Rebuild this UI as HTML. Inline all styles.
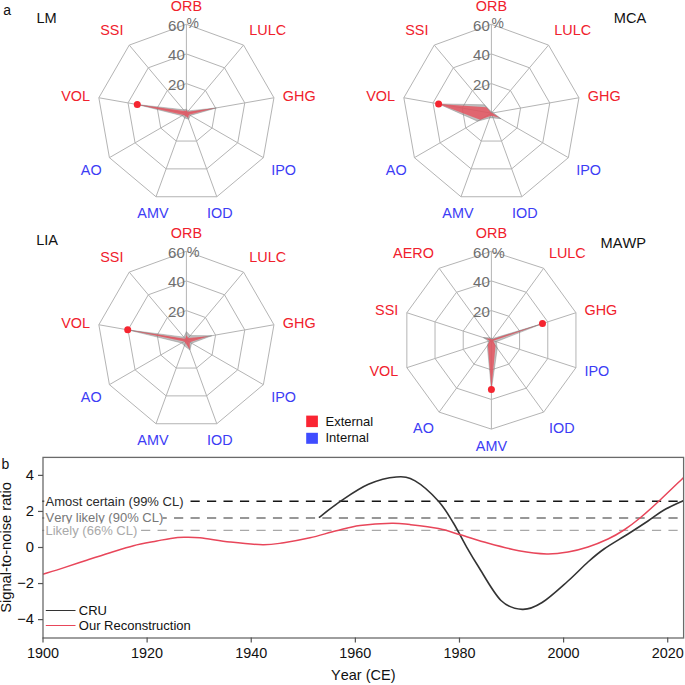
<!DOCTYPE html>
<html><head><meta charset="utf-8"><style>
html,body{margin:0;padding:0;background:#fff;}
svg{display:block;font-family:"Liberation Sans", sans-serif;font-kerning:none;}
</style></head><body>
<svg width="685" height="685" viewBox="0 0 685 685">
<rect width="685" height="685" fill="#fff"/>
<text x="3.3" y="15" font-size="14" fill="#111">a</text>
<polygon points="186.4,83.57 205.45,90.5 215.58,108.05 212.06,128.02 196.54,141.05 176.26,141.05 160.74,128.02 157.22,108.05 167.35,90.5" fill="none" stroke="#b4b4b4" stroke-width="1"/>
<polygon points="186.4,53.93 224.5,67.8 244.77,102.91 237.73,142.83 206.67,168.89 166.13,168.89 135.07,142.83 128.03,102.91 148.3,67.8" fill="none" stroke="#b4b4b4" stroke-width="1"/>
<polygon points="186.4,24.3 243.54,45.1 273.95,97.76 263.39,157.65 216.81,196.74 155.99,196.74 109.41,157.65 98.85,97.76 129.26,45.1" fill="none" stroke="#b4b4b4" stroke-width="1"/>
<line x1="186.4" y1="113.2" x2="186.4" y2="24.3" stroke="#b4b4b4" stroke-width="1"/>
<line x1="186.4" y1="113.2" x2="243.54" y2="45.1" stroke="#b4b4b4" stroke-width="1"/>
<line x1="186.4" y1="113.2" x2="273.95" y2="97.76" stroke="#b4b4b4" stroke-width="1"/>
<line x1="186.4" y1="113.2" x2="263.39" y2="157.65" stroke="#b4b4b4" stroke-width="1"/>
<line x1="186.4" y1="113.2" x2="216.81" y2="196.74" stroke="#b4b4b4" stroke-width="1"/>
<line x1="186.4" y1="113.2" x2="155.99" y2="196.74" stroke="#b4b4b4" stroke-width="1"/>
<line x1="186.4" y1="113.2" x2="109.41" y2="157.65" stroke="#b4b4b4" stroke-width="1"/>
<line x1="186.4" y1="113.2" x2="98.85" y2="97.76" stroke="#b4b4b4" stroke-width="1"/>
<line x1="186.4" y1="113.2" x2="129.26" y2="45.1" stroke="#b4b4b4" stroke-width="1"/>
<polygon points="186.4,109.2 188.33,110.9 216.44,107.9 190.3,115.45 188.62,119.31 184.69,117.9 182.07,115.7 137.26,104.53 183.51,109.75" fill="#808080" fill-opacity="0.5" stroke="#808080" stroke-opacity="0.5" stroke-width="0.8" stroke-linejoin="round"/>
<polygon points="186.4,110.2 187.69,111.67 215.75,108.03 189,114.7 188.11,117.9 185.37,116.02 183.37,114.95 137.26,104.53 184.47,110.9" fill="#e8505c" fill-opacity="0.8" stroke="none"/>
<circle cx="137.26" cy="104.53" r="3.5" fill="#f52530"/>
<text x="184.8" y="89.97" text-anchor="end" font-size="15" fill="#6e6e6e">20</text>
<text x="184.8" y="60.33" text-anchor="end" font-size="15" fill="#6e6e6e">40</text>
<text x="184.8" y="30.7" text-anchor="end" font-size="15" fill="#6e6e6e">60</text>
<text x="186.6" y="28.2" font-size="13.9" fill="#6e6e6e">%</text>
<text x="186.4" y="11.1" text-anchor="middle" font-size="14.4" fill="#f0202c">ORB</text>
<text x="249.33" y="35" text-anchor="start" font-size="14.4" fill="#f0202c">LULC</text>
<text x="282.81" y="101.45" text-anchor="start" font-size="14.4" fill="#f0202c">GHG</text>
<text x="271.18" y="175.35" text-anchor="start" font-size="14.4" fill="#3c3cf5">IPO</text>
<text x="219.88" y="218.4" text-anchor="middle" font-size="14.4" fill="#3c3cf5">IOD</text>
<text x="152.92" y="218.4" text-anchor="middle" font-size="14.4" fill="#3c3cf5">AMV</text>
<text x="101.62" y="175.35" text-anchor="end" font-size="14.4" fill="#3c3cf5">AO</text>
<text x="89.99" y="101.45" text-anchor="end" font-size="14.4" fill="#f0202c">VOL</text>
<text x="123.47" y="35" text-anchor="end" font-size="14.4" fill="#f0202c">SSI</text>
<text x="36.4" y="23.2" font-size="14.6" fill="#111">LM</text>
<polygon points="491.4,83.57 510.45,90.5 520.58,108.05 517.06,128.02 501.54,141.05 481.26,141.05 465.74,128.02 462.22,108.05 472.35,90.5" fill="none" stroke="#b4b4b4" stroke-width="1"/>
<polygon points="491.4,53.93 529.5,67.8 549.77,102.91 542.73,142.83 511.67,168.89 471.13,168.89 440.07,142.83 433.03,102.91 453.3,67.8" fill="none" stroke="#b4b4b4" stroke-width="1"/>
<polygon points="491.4,24.3 548.54,45.1 578.95,97.76 568.39,157.65 521.81,196.74 460.99,196.74 414.41,157.65 403.85,97.76 434.26,45.1" fill="none" stroke="#b4b4b4" stroke-width="1"/>
<line x1="491.4" y1="113.2" x2="491.4" y2="24.3" stroke="#b4b4b4" stroke-width="1"/>
<line x1="491.4" y1="113.2" x2="548.54" y2="45.1" stroke="#b4b4b4" stroke-width="1"/>
<line x1="491.4" y1="113.2" x2="578.95" y2="97.76" stroke="#b4b4b4" stroke-width="1"/>
<line x1="491.4" y1="113.2" x2="568.39" y2="157.65" stroke="#b4b4b4" stroke-width="1"/>
<line x1="491.4" y1="113.2" x2="521.81" y2="196.74" stroke="#b4b4b4" stroke-width="1"/>
<line x1="491.4" y1="113.2" x2="460.99" y2="196.74" stroke="#b4b4b4" stroke-width="1"/>
<line x1="491.4" y1="113.2" x2="414.41" y2="157.65" stroke="#b4b4b4" stroke-width="1"/>
<line x1="491.4" y1="113.2" x2="403.85" y2="97.76" stroke="#b4b4b4" stroke-width="1"/>
<line x1="491.4" y1="113.2" x2="434.26" y2="45.1" stroke="#b4b4b4" stroke-width="1"/>
<polygon points="491.4,111.7 492.36,112.05 493.37,112.85 500.93,118.7 493.11,117.9 489.69,117.9 477.54,121.2 438.61,103.89 484.33,104.77" fill="#808080" fill-opacity="0.5" stroke="#808080" stroke-opacity="0.5" stroke-width="0.8" stroke-linejoin="round"/>
<polygon points="491.4,112.7 491.72,112.82 492.38,113.03 499.02,117.6 492.43,116.02 490.37,116.02 480.14,119.7 438.61,103.89 486.32,107.15" fill="#e8505c" fill-opacity="0.8" stroke="none"/>
<circle cx="438.61" cy="103.89" r="3.5" fill="#f52530"/>
<text x="489.8" y="89.97" text-anchor="end" font-size="15" fill="#6e6e6e">20</text>
<text x="489.8" y="60.33" text-anchor="end" font-size="15" fill="#6e6e6e">40</text>
<text x="489.8" y="30.7" text-anchor="end" font-size="15" fill="#6e6e6e">60</text>
<text x="491.6" y="28.2" font-size="13.9" fill="#6e6e6e">%</text>
<text x="491.4" y="11.1" text-anchor="middle" font-size="14.4" fill="#f0202c">ORB</text>
<text x="554.33" y="35" text-anchor="start" font-size="14.4" fill="#f0202c">LULC</text>
<text x="587.81" y="101.45" text-anchor="start" font-size="14.4" fill="#f0202c">GHG</text>
<text x="576.18" y="175.35" text-anchor="start" font-size="14.4" fill="#3c3cf5">IPO</text>
<text x="524.88" y="218.4" text-anchor="middle" font-size="14.4" fill="#3c3cf5">IOD</text>
<text x="457.92" y="218.4" text-anchor="middle" font-size="14.4" fill="#3c3cf5">AMV</text>
<text x="406.62" y="175.35" text-anchor="end" font-size="14.4" fill="#3c3cf5">AO</text>
<text x="394.99" y="101.45" text-anchor="end" font-size="14.4" fill="#f0202c">VOL</text>
<text x="428.47" y="35" text-anchor="end" font-size="14.4" fill="#f0202c">SSI</text>
<text x="646.3" y="23.1" text-anchor="end" font-size="14.6" fill="#111">MCA</text>
<polygon points="186.4,310.57 205.45,317.5 215.58,335.05 212.06,355.02 196.54,368.05 176.26,368.05 160.74,355.02 157.22,335.05 167.35,317.5" fill="none" stroke="#b4b4b4" stroke-width="1"/>
<polygon points="186.4,280.93 224.5,294.8 244.77,329.91 237.73,369.83 206.67,395.89 166.13,395.89 135.07,369.83 128.03,329.91 148.3,294.8" fill="none" stroke="#b4b4b4" stroke-width="1"/>
<polygon points="186.4,251.3 243.54,272.1 273.95,324.76 263.39,384.65 216.81,423.74 155.99,423.74 109.41,384.65 98.85,324.76 129.26,272.1" fill="none" stroke="#b4b4b4" stroke-width="1"/>
<line x1="186.4" y1="340.2" x2="186.4" y2="251.3" stroke="#b4b4b4" stroke-width="1"/>
<line x1="186.4" y1="340.2" x2="243.54" y2="272.1" stroke="#b4b4b4" stroke-width="1"/>
<line x1="186.4" y1="340.2" x2="273.95" y2="324.76" stroke="#b4b4b4" stroke-width="1"/>
<line x1="186.4" y1="340.2" x2="263.39" y2="384.65" stroke="#b4b4b4" stroke-width="1"/>
<line x1="186.4" y1="340.2" x2="216.81" y2="423.74" stroke="#b4b4b4" stroke-width="1"/>
<line x1="186.4" y1="340.2" x2="155.99" y2="423.74" stroke="#b4b4b4" stroke-width="1"/>
<line x1="186.4" y1="340.2" x2="109.41" y2="384.65" stroke="#b4b4b4" stroke-width="1"/>
<line x1="186.4" y1="340.2" x2="98.85" y2="324.76" stroke="#b4b4b4" stroke-width="1"/>
<line x1="186.4" y1="340.2" x2="129.26" y2="272.1" stroke="#b4b4b4" stroke-width="1"/>
<polygon points="186.4,331.6 190.26,335.6 211.81,335.72 191.6,343.2 189.99,350.07 184.35,345.84 181.64,342.95 127.71,329.85 183.83,337.14" fill="#808080" fill-opacity="0.5" stroke="#808080" stroke-opacity="0.5" stroke-width="0.8" stroke-linejoin="round"/>
<polygon points="186.4,335.2 188.33,337.9 208.46,336.31 189.86,342.2 189.65,349.13 185.37,343.02 184.23,341.45 127.71,329.85 185.11,338.67" fill="#e8505c" fill-opacity="0.8" stroke="none"/>
<circle cx="127.71" cy="329.85" r="3.5" fill="#f52530"/>
<text x="184.8" y="316.97" text-anchor="end" font-size="15" fill="#6e6e6e">20</text>
<text x="184.8" y="287.33" text-anchor="end" font-size="15" fill="#6e6e6e">40</text>
<text x="184.8" y="257.7" text-anchor="end" font-size="15" fill="#6e6e6e">60</text>
<text x="186.7" y="256.8" font-size="14.4" fill="#6e6e6e">%</text>
<text x="186.4" y="238.1" text-anchor="middle" font-size="14.4" fill="#f0202c">ORB</text>
<text x="249.33" y="262" text-anchor="start" font-size="14.4" fill="#f0202c">LULC</text>
<text x="282.81" y="328.45" text-anchor="start" font-size="14.4" fill="#f0202c">GHG</text>
<text x="271.18" y="402.35" text-anchor="start" font-size="14.4" fill="#3c3cf5">IPO</text>
<text x="219.88" y="445.4" text-anchor="middle" font-size="14.4" fill="#3c3cf5">IOD</text>
<text x="152.92" y="445.4" text-anchor="middle" font-size="14.4" fill="#3c3cf5">AMV</text>
<text x="101.62" y="402.35" text-anchor="end" font-size="14.4" fill="#3c3cf5">AO</text>
<text x="89.99" y="328.45" text-anchor="end" font-size="14.4" fill="#f0202c">VOL</text>
<text x="123.47" y="262" text-anchor="end" font-size="14.4" fill="#f0202c">SSI</text>
<text x="36.2" y="245.3" font-size="14.6" fill="#111">LIA</text>
<polygon points="491.4,310.57 508.82,316.23 519.58,331.04 519.58,349.36 508.82,364.17 491.4,369.83 473.98,364.17 463.22,349.36 463.22,331.04 473.98,316.23" fill="none" stroke="#b4b4b4" stroke-width="1"/>
<polygon points="491.4,280.93 526.24,292.25 547.77,321.89 547.77,358.51 526.24,388.15 491.4,399.47 456.56,388.15 435.03,358.51 435.03,321.89 456.56,292.25" fill="none" stroke="#b4b4b4" stroke-width="1"/>
<polygon points="491.4,251.3 543.65,268.28 575.95,312.73 575.95,367.67 543.65,412.12 491.4,429.1 439.15,412.12 406.85,367.67 406.85,312.73 439.15,268.28" fill="none" stroke="#b4b4b4" stroke-width="1"/>
<line x1="491.4" y1="340.2" x2="491.4" y2="251.3" stroke="#b4b4b4" stroke-width="1"/>
<line x1="491.4" y1="340.2" x2="543.65" y2="268.28" stroke="#b4b4b4" stroke-width="1"/>
<line x1="491.4" y1="340.2" x2="575.95" y2="312.73" stroke="#b4b4b4" stroke-width="1"/>
<line x1="491.4" y1="340.2" x2="575.95" y2="367.67" stroke="#b4b4b4" stroke-width="1"/>
<line x1="491.4" y1="340.2" x2="543.65" y2="412.12" stroke="#b4b4b4" stroke-width="1"/>
<line x1="491.4" y1="340.2" x2="491.4" y2="429.1" stroke="#b4b4b4" stroke-width="1"/>
<line x1="491.4" y1="340.2" x2="439.15" y2="412.12" stroke="#b4b4b4" stroke-width="1"/>
<line x1="491.4" y1="340.2" x2="406.85" y2="367.67" stroke="#b4b4b4" stroke-width="1"/>
<line x1="491.4" y1="340.2" x2="406.85" y2="312.73" stroke="#b4b4b4" stroke-width="1"/>
<line x1="491.4" y1="340.2" x2="439.15" y2="268.28" stroke="#b4b4b4" stroke-width="1"/>
<polygon points="491.4,338.2 492.58,338.58 542.47,323.61 496.16,341.75 497.28,348.29 491.4,389.5 487.29,345.86 488.55,341.13 483.32,337.57 489.64,337.77" fill="#808080" fill-opacity="0.5" stroke="#808080" stroke-opacity="0.5" stroke-width="0.8" stroke-linejoin="round"/>
<polygon points="491.4,339.2 491.99,339.39 542.47,323.61 493.3,340.82 495.51,345.86 491.4,389.5 487.87,345.05 489.5,340.82 486.17,338.5 490.22,338.58" fill="#e8505c" fill-opacity="0.8" stroke="none"/>
<circle cx="542.47" cy="323.61" r="3.5" fill="#f52530"/>
<circle cx="491.4" cy="389.5" r="3.5" fill="#f52530"/>
<text x="489.8" y="316.97" text-anchor="end" font-size="15" fill="#6e6e6e">20</text>
<text x="489.8" y="287.33" text-anchor="end" font-size="15" fill="#6e6e6e">40</text>
<text x="489.8" y="257.7" text-anchor="end" font-size="15" fill="#6e6e6e">60</text>
<text x="491.7" y="257.7" font-size="14.6" fill="#6e6e6e">%</text>
<text x="491.4" y="238.1" text-anchor="middle" font-size="14.4" fill="#f0202c">ORB</text>
<text x="548.94" y="257.8" text-anchor="start" font-size="14.4" fill="#f0202c">LULC</text>
<text x="584.51" y="315.2" text-anchor="start" font-size="14.4" fill="#f0202c">GHG</text>
<text x="584.51" y="375.7" text-anchor="start" font-size="14.4" fill="#3c3cf5">IPO</text>
<text x="548.94" y="432.6" text-anchor="start" font-size="14.4" fill="#3c3cf5">IOD</text>
<text x="491.4" y="451.3" text-anchor="middle" font-size="14.4" fill="#3c3cf5">AMV</text>
<text x="433.86" y="432.6" text-anchor="end" font-size="14.4" fill="#3c3cf5">AO</text>
<text x="398.29" y="375.7" text-anchor="end" font-size="14.4" fill="#f0202c">VOL</text>
<text x="398.29" y="315.2" text-anchor="end" font-size="14.4" fill="#f0202c">SSI</text>
<text x="433.86" y="257.8" text-anchor="end" font-size="14.4" fill="#f0202c">AERO</text>
<text x="646" y="247.7" text-anchor="end" font-size="14.6" fill="#111">MAWP</text>
<rect x="306.2" y="415.6" width="11.7" height="11.5" fill="#fa2533"/>
<rect x="306.2" y="432.8" width="11.7" height="11" fill="#3f4cff"/>
<text x="325.5" y="425.6" font-size="13" fill="#111">External</text>
<text x="325.5" y="442.4" font-size="13" fill="#111">Internal</text>
<text x="1.5" y="468.6" font-size="14" fill="#111">b</text>
<line x1="42.2" y1="501.3" x2="678.5" y2="501.3" stroke="#151515" stroke-width="1.5" stroke-dasharray="9.2 7.28"/>
<line x1="42.2" y1="518" x2="678.5" y2="518" stroke="#767676" stroke-width="1.6" stroke-dasharray="9.2 7.28"/>
<line x1="42.2" y1="530.4" x2="678.5" y2="530.4" stroke="#a8a8a8" stroke-width="1.25" stroke-dasharray="9.2 7.28"/>
<rect x="44.2" y="494.4" width="139.8" height="13" fill="#fff"/>
<text x="45.5" y="505.9" font-size="13" fill="#2b2b2b">Amost certain (99% CL)</text>
<rect x="44.2" y="511.1" width="118.3" height="13" fill="#fff"/>
<text x="45.5" y="521.9" font-size="13" fill="#777">Very likely (90% CL)</text>
<rect x="44.2" y="523.5" width="93.8" height="13" fill="#fff"/>
<text x="45.5" y="535" font-size="13" fill="#a9a9a9">Likely (66% CL)</text>
<path d="M318.9,517.6 C322.48,514.88 332.15,506.85 340.4,501.3 C348.65,495.75 359.07,488.35 368.4,484.3 C377.73,480.25 388.62,477.57 396.4,477 C404.18,476.43 408.08,476.87 415.1,480.9 C422.12,484.93 432.12,494.18 438.5,501.2 C444.88,508.22 448.92,515.72 453.4,523 C457.88,530.28 461.27,537.68 465.4,544.9 C469.53,552.12 472.27,557.03 478.2,566.3 C484.13,575.57 493.65,593.32 501,600.5 C508.35,607.68 515.45,609.07 522.3,609.4 C529.15,609.73 534.48,607.23 542.1,602.5 C549.72,597.77 560.35,587.75 568,581 C575.65,574.25 582,567.33 588,562 C594,556.67 597.33,553.67 604,549 C610.67,544.33 620.67,538.67 628,534 C635.33,529.33 642,525 648,521 C654,517 658.07,513.42 664,510 C669.93,506.58 680.33,502.08 683.6,500.5" fill="none" stroke="#333" stroke-width="1.6"/>
<path d="M43,574.2 C46.4,573.15 56.12,570.23 63.4,567.9 C70.68,565.57 78.92,562.73 86.7,560.2 C94.48,557.67 102.3,555.12 110.1,552.7 C117.9,550.28 125.72,547.65 133.5,545.7 C141.28,543.75 150.58,542.22 156.8,541 C163.02,539.78 166.27,539.02 170.8,538.4 C175.33,537.78 179.13,537.4 184,537.3 C188.87,537.2 192.33,537.02 200,537.8 C207.67,538.58 219.53,540.83 230,542 C240.47,543.17 253.83,544.68 262.8,544.8 C271.77,544.92 275.93,543.87 283.8,542.7 C291.67,541.53 301.25,539.78 310,537.8 C318.75,535.82 327.97,532.85 336.3,530.8 C344.63,528.75 350.75,526.77 360,525.5 C369.25,524.23 383.47,523.35 391.8,523.2 C400.13,523.05 402.22,523.7 410,524.6 C417.78,525.5 430.1,526.9 438.5,528.6 C446.9,530.3 452.08,532.35 460.4,534.8 C468.72,537.25 478.67,540.65 488.4,543.3 C498.13,545.95 509.07,548.93 518.8,550.7 C528.53,552.47 538.6,553.68 546.8,553.9 C555,554.12 561.13,553.15 568,552 C574.87,550.85 581.33,549.17 588,547 C594.67,544.83 602,541.83 608,539 C614,536.17 618.67,533.5 624,530 C629.33,526.5 634.33,522.67 640,518 C645.67,513.33 650.73,508.75 658,502 C665.27,495.25 679.33,481.58 683.6,477.5" fill="none" stroke="#e8465a" stroke-width="1.5"/>
<rect x="43" y="457.4" width="640.6" height="180.6" fill="none" stroke="#6a6a6a" stroke-width="1.3"/>
<line x1="38" y1="475.38" x2="43" y2="475.38" stroke="#555" stroke-width="1.2"/>
<text x="34" y="480.08" text-anchor="end" font-size="14.8" fill="#111">4</text>
<line x1="38" y1="511.44" x2="43" y2="511.44" stroke="#555" stroke-width="1.2"/>
<text x="34" y="516.14" text-anchor="end" font-size="14.8" fill="#111">2</text>
<line x1="38" y1="547.5" x2="43" y2="547.5" stroke="#555" stroke-width="1.2"/>
<text x="34" y="552.2" text-anchor="end" font-size="14.8" fill="#111">0</text>
<line x1="38" y1="583.56" x2="43" y2="583.56" stroke="#555" stroke-width="1.2"/>
<text x="34" y="588.26" text-anchor="end" font-size="14.8" fill="#111">−2</text>
<line x1="38" y1="619.62" x2="43" y2="619.62" stroke="#555" stroke-width="1.2"/>
<text x="34" y="624.32" text-anchor="end" font-size="14.8" fill="#111">−4</text>
<line x1="43" y1="637.6" x2="43" y2="642.6" stroke="#555" stroke-width="1.2"/>
<text x="43" y="657.8" text-anchor="middle" font-size="14.4" fill="#111">1900</text>
<line x1="147.12" y1="637.6" x2="147.12" y2="642.6" stroke="#555" stroke-width="1.2"/>
<text x="147.12" y="657.8" text-anchor="middle" font-size="14.4" fill="#111">1920</text>
<line x1="251.24" y1="637.6" x2="251.24" y2="642.6" stroke="#555" stroke-width="1.2"/>
<text x="251.24" y="657.8" text-anchor="middle" font-size="14.4" fill="#111">1940</text>
<line x1="355.36" y1="637.6" x2="355.36" y2="642.6" stroke="#555" stroke-width="1.2"/>
<text x="355.36" y="657.8" text-anchor="middle" font-size="14.4" fill="#111">1960</text>
<line x1="459.48" y1="637.6" x2="459.48" y2="642.6" stroke="#555" stroke-width="1.2"/>
<text x="459.48" y="657.8" text-anchor="middle" font-size="14.4" fill="#111">1980</text>
<line x1="563.6" y1="637.6" x2="563.6" y2="642.6" stroke="#555" stroke-width="1.2"/>
<text x="563.6" y="657.8" text-anchor="middle" font-size="14.4" fill="#111">2000</text>
<line x1="667.72" y1="637.6" x2="667.72" y2="642.6" stroke="#555" stroke-width="1.2"/>
<text x="667.72" y="657.8" text-anchor="middle" font-size="14.4" fill="#111">2020</text>
<text x="363.3" y="680.4" text-anchor="middle" font-size="14.5" fill="#111">Year (CE)</text>
<text transform="translate(11.4,547.5) rotate(-90)" text-anchor="middle" font-size="14.7" fill="#111">Signal-to-noise ratio</text>
<line x1="45.8" y1="610.5" x2="75.5" y2="610.5" stroke="#333" stroke-width="1"/>
<line x1="45.8" y1="625.5" x2="75.5" y2="625.5" stroke="#e8465a" stroke-width="1"/>
<text x="78.8" y="614.8" font-size="13" fill="#111">CRU</text>
<text x="78.8" y="630.1" font-size="13" fill="#111">Our Reconstruction</text>
</svg>
</body></html>
